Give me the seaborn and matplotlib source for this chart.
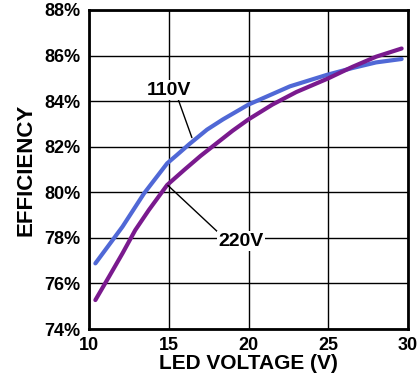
import seaborn as sns
import matplotlib.pyplot as plt
import pandas as pd

# Data
v_110 = [10.4, 12.1, 13.45, 14.9, 15.5, 16.3, 17.4, 18.4, 20.0, 22.6, 24.9, 26.5, 28.0, 29.6]
eff_110 = [76.88, 78.49, 79.95, 81.27, 81.63, 82.12, 82.75, 83.2, 83.85, 84.65, 85.15, 85.45, 85.7, 85.85]
v_220 = [10.4, 11.25, 12.1, 12.9, 13.75, 14.9, 16.0, 17.0, 18.0, 19.0, 20.0, 21.5, 23.0, 25.0, 26.5, 28.0, 29.6]
eff_220 = [75.27, 76.29, 77.32, 78.34, 79.22, 80.32, 81.0, 81.6, 82.15, 82.7, 83.2, 83.85, 84.4, 85.0, 85.5, 85.95, 86.31]

x_ticks = [10, 15, 20, 25, 30]
y_ticks = [74, 76, 78, 80, 82, 84, 86, 88]

df = pd.concat([
    pd.DataFrame({"voltage": v_110, "eff": eff_110, "line": "110V"}),
    pd.DataFrame({"voltage": v_220, "eff": eff_220, "line": "220V"}),
])

sns.set_style("white")
plt.rcParams["font.family"] = ["Liberation Sans", "DejaVu Sans"]
plt.rcParams["text.color"] = "black"
plt.rcParams["axes.labelcolor"] = "black"
plt.rcParams["xtick.color"] = "black"
plt.rcParams["ytick.color"] = "black"

fig, ax = plt.subplots(figsize=(4.18, 3.83), dpi=100)
fig.subplots_adjust(left=89 / 418, right=408 / 418, top=1 - 10 / 383, bottom=1 - 329 / 383)

sns.lineplot(data=df, x="voltage", y="eff", hue="line",
             palette={"110V": "#5068d6", "220V": "#7a1a8e"},
             linewidth=3, legend=False, ax=ax, zorder=3)

ax.set_xlim(10, 30)
ax.set_ylim(74, 88)
ax.set_xticks(x_ticks)
ax.set_yticks(y_ticks)
ax.set_yticklabels([f"{t}%" for t in y_ticks])
ax.grid(True, color="black", linewidth=1)
ax.tick_params(length=0, labelsize=13, pad=6)
for lab in ax.get_xticklabels() + ax.get_yticklabels():
    lab.set_fontweight("bold")
for s in ax.spines.values():
    s.set_color("black")
    s.set_linewidth(2)

ax.set_xlabel("LED VOLTAGE (V)", fontsize=15, fontweight="bold", labelpad=0)
ax.set_ylabel("EFFICIENCY", fontsize=16, fontweight="bold", labelpad=6)

ax.annotate("110V", xy=(16.45, 82.4), xytext=(15.02, 84.48),
            fontsize=14, fontweight="bold", ha="center", va="center",
            bbox=dict(fc="white", ec="none", pad=1),
            arrowprops=dict(arrowstyle="-", color="black", lw=1,
                            relpos=(0.7, 0), shrinkA=0, shrinkB=0), zorder=4)
ax.annotate("220V", xy=(14.95, 80.3), xytext=(19.53, 77.86),
            fontsize=14, fontweight="bold", ha="center", va="center",
            bbox=dict(fc="white", ec="none", pad=1),
            arrowprops=dict(arrowstyle="-", color="black", lw=1,
                            relpos=(0, 1), shrinkA=0, shrinkB=0), zorder=4)

plt.savefig("out.png", dpi=100)
